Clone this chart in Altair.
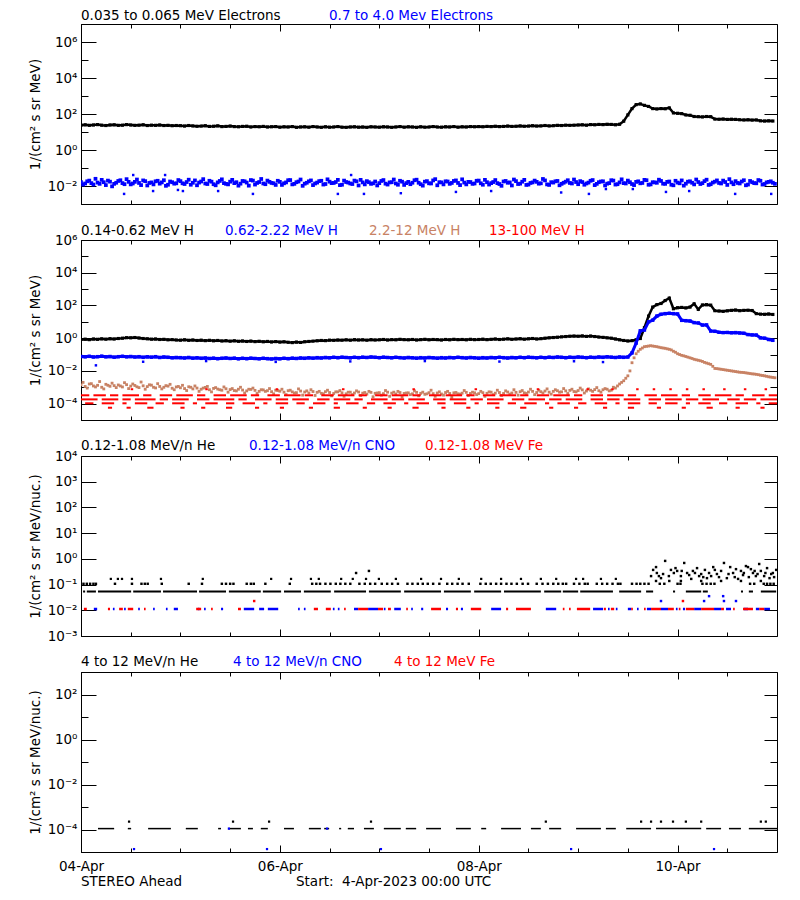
import altair as alt
import pandas as pd

FONT = "DejaVu Sans"
FS = 13.5
BLACK, BLUE, BROWN, RED = "#000000", "#0000ff", "#c88264", "#ff0000"

# ---------------- time base: hours after 2023-04-04 00:00 UTC ----------------
hours = list(range(168))
half_hours = [h + 0.5 for h in hours]
day_tick_hours = [0, 48, 96, 144]
day_tick_labels = ["04-Apr", "06-Apr", "08-Apr", "10-Apr"]
minor_tick_hours = [0, 12, 24, 36, 48, 60, 72, 84, 96, 108, 120, 132, 144, 156]

# ---------------- panel 1: electrons (log10 flux) ----------------
p1_names = ["0.035 to 0.065 MeV Electrons", "0.7 to 4.0 Mev Electrons"]
e_low_log = [
    1.38, 1.40, 1.37, 1.39, 1.41, 1.38, 1.36, 1.39, 1.40, 1.37, 1.38, 1.41,
    1.39, 1.37, 1.38, 1.40, 1.36, 1.38, 1.37, 1.39, 1.36, 1.37, 1.35, 1.36,
    1.35, 1.33, 1.36, 1.34, 1.32, 1.33, 1.35, 1.31, 1.32, 1.34, 1.30, 1.31,
    1.33, 1.30, 1.29, 1.31, 1.32, 1.28, 1.30, 1.29, 1.31, 1.28, 1.29, 1.30,
    1.27, 1.29, 1.28, 1.30, 1.26, 1.28, 1.29, 1.27, 1.30, 1.28, 1.26, 1.29,
    1.27, 1.28, 1.30, 1.27, 1.26, 1.28, 1.29, 1.27, 1.28, 1.26, 1.29, 1.28,
    1.27, 1.29, 1.28, 1.26, 1.28, 1.30, 1.27, 1.29, 1.28, 1.26, 1.29, 1.27,
    1.28, 1.30, 1.28, 1.27, 1.29, 1.28, 1.30, 1.27, 1.29, 1.28, 1.30, 1.29,
    1.30, 1.29, 1.31, 1.30, 1.32, 1.30, 1.31, 1.33, 1.31, 1.32, 1.34, 1.32,
    1.33, 1.35, 1.33, 1.34, 1.36, 1.34, 1.35, 1.37, 1.36, 1.38, 1.37, 1.38,
    1.39, 1.40, 1.38, 1.41, 1.40, 1.42, 1.41, 1.43, 1.42, 1.40, 1.43, 1.60,
    1.95, 2.30, 2.52, 2.56, 2.48, 2.42, 2.30, 2.28, 2.30, 2.29, 2.34, 2.06,
    2.04, 2.02, 1.95, 1.93, 1.86, 1.85, 1.84, 1.86, 1.85, 1.72, 1.71, 1.72,
    1.70, 1.71, 1.70, 1.68, 1.67, 1.68, 1.66, 1.67, 1.62, 1.61, 1.62, 1.61,
]
e_high_log_a = [
    -1.78, -1.86, -1.70, -1.92, -1.81, -1.66, -1.95, -1.76, -1.88, -1.72, -1.84, -1.62,
    -1.91, -1.77, -1.83, -1.69, -1.97, -1.80, -1.74, -1.87, -1.68, -1.93, -1.79, -1.85,
    -1.73, -1.89, -1.65, -1.82, -1.96, -1.75, -1.86, -1.71, -1.90, -1.80, -1.63, -1.88,
    -1.76, -1.84, -1.98, -1.72, -1.81, -1.67, -1.92, -1.78, -1.86, -1.70, -1.83, -1.94,
    -1.77, -1.85, -1.68, -1.91, -1.79, -1.64, -1.87, -1.74, -1.95, -1.81, -1.71, -1.89,
    -1.76, -1.83, -1.66, -1.93, -1.78, -1.86, -1.70, -1.97, -1.80, -1.73, -1.88, -1.75,
    -1.84, -1.67, -1.92, -1.79, -1.86, -1.71, -1.94, -1.77, -1.82, -1.65, -1.90, -1.76,
    -1.85, -1.69, -1.96, -1.80, -1.74, -1.88, -1.72, -1.83, -1.63, -1.91, -1.78, -1.86,
    -1.70, -1.93, -1.79, -1.84, -1.67, -1.89, -1.75, -1.82, -1.97, -1.73, -1.87, -1.66,
    -1.92, -1.80, -1.77, -1.85, -1.69, -1.94, -1.81, -1.72, -1.88, -1.76, -1.83, -1.64,
    -1.90, -1.78, -1.86, -1.71, -1.95, -1.79, -1.74, -1.87, -1.68, -1.92, -1.80, -1.84,
    -1.70, -1.89, -1.77, -1.85, -1.66, -1.93, -1.79, -1.82, -1.72, -1.88, -1.75, -1.96,
    -1.81, -1.69, -1.87, -1.74, -1.91, -1.78, -1.84, -1.65, -1.90, -1.76, -1.83, -1.70,
    -1.94, -1.80, -1.73, -1.86, -1.68, -1.92, -1.79, -1.85, -1.71, -1.89, -1.77, -1.82,
]
e_high_log_b = [
    -1.92, -1.74, -1.84, -1.60, -1.88, -1.79, -1.70, -2.02, -1.82, -1.68, -1.90, -1.77,
    -1.86, -1.64, -1.95, -1.73, -1.83, -1.91, -1.71, -1.80, -1.99, -1.75, -1.87, -1.67,
    -1.85, -1.78, -1.93, -1.69, -1.81, -1.62, -1.89, -1.76, -1.96, -1.72, -1.84, -1.91,
    -1.66, -1.79, -1.87, -1.74, -1.98, -1.70, -1.83, -1.61, -1.90, -1.77, -1.85, -1.71,
    -1.94, -1.80, -1.67, -1.88, -1.75, -1.99, -1.82, -1.69, -1.86, -1.73, -1.92, -1.63,
    -1.84, -1.78, -1.95, -1.70, -1.81, -1.89, -1.74, -1.66, -1.91, -1.79, -1.85, -1.97,
    -1.72, -1.87, -1.80, -1.64, -1.93, -1.76, -1.84, -1.90, -1.68, -1.82, -1.98, -1.73,
    -1.86, -1.62, -1.79, -1.91, -1.75, -1.83, -1.69, -1.95, -1.81, -1.77, -1.88, -1.71,
    -1.85, -1.66, -1.92, -1.78, -1.84, -1.99, -1.72, -1.80, -1.64, -1.89, -1.76, -1.94,
    -1.83, -1.70, -1.87, -1.61, -1.91, -1.79, -1.74, -1.96, -1.82, -1.68, -1.86, -1.78,
    -1.73, -1.93, -1.81, -1.67, -1.88, -1.75, -1.97, -1.84, -1.70, -1.90, -1.63, -1.86,
    -1.79, -1.95, -1.74, -1.83, -1.68, -1.91, -1.80, -1.65, -1.87, -1.77, -1.93, -1.71,
    -1.85, -1.98, -1.76, -1.82, -1.64, -1.89, -1.73, -1.94, -1.81, -1.69, -1.86, -1.78,
    -1.62, -1.90, -1.83, -1.75, -1.96, -1.72, -1.84, -1.67, -1.92, -1.80, -1.74, -1.88,
]
e_high_outliers = [
    (10.4, -2.44), (17.4, -2.28), (23.4, -2.22), (24.6, -2.28), (33.1, -2.28), (41.5, -2.44),
    (62.0, -2.44), (68.3, -2.44), (77.2, -2.40), (90.5, -2.33), (99.0, -2.28), (115.9, -2.36),
    (122.6, -2.44), (126.7, -2.17), (133.2, -2.17), (141.2, -2.33), (146.8, -2.28),
    (157.9, -2.44), (166.6, -2.44), (12.6, -1.39), (20.3, -1.39), (65.2, -1.39),
]

# ---------------- panel 2: protons (log10 flux) ----------------
p2_names = ["0.14-0.62 MeV H", "0.62-2.22 MeV H", "2.2-12 MeV H", "13-100 MeV H"]
h_low_log = [
    -0.08, -0.06, -0.09, -0.05, -0.07, -0.04, -0.06, -0.03, -0.05, -0.02, 0.00, 0.03,
    0.02, 0.04, 0.01, -0.02, -0.04, -0.06, -0.05, -0.08, -0.07, -0.10, -0.09, -0.11,
    -0.12, -0.10, -0.13, -0.11, -0.14, -0.12, -0.15, -0.13, -0.16, -0.14, -0.17, -0.15,
    -0.18, -0.16, -0.19, -0.17, -0.20, -0.18, -0.21, -0.19, -0.22, -0.20, -0.23, -0.21,
    -0.24, -0.22, -0.25, -0.27, -0.24, -0.26, -0.22, -0.20, -0.18, -0.16, -0.14, -0.15,
    -0.12, -0.13, -0.11, -0.12, -0.10, -0.12, -0.09, -0.11, -0.10, -0.12, -0.09, -0.11,
    -0.10, -0.08, -0.11, -0.09, -0.10, -0.07, -0.09, -0.10, -0.08, -0.11, -0.09, -0.07,
    -0.10, -0.08, -0.09, -0.11, -0.08, -0.10, -0.07, -0.09, -0.08, -0.10, -0.07, -0.09,
    -0.08, -0.06, -0.09, -0.07, -0.05, -0.08, -0.06, -0.04, -0.07, -0.05, -0.03, -0.06,
    -0.04, -0.02, -0.05, -0.03, 0.00, 0.02, 0.04, 0.06, 0.08, 0.10, 0.12, 0.13,
    0.12, 0.14, 0.11, 0.13, 0.10, 0.07, 0.05, 0.02, 0.00, -0.05, -0.10, -0.14,
    -0.17, -0.15, -0.10, -0.02, 0.64, 1.35, 1.90, 2.05, 2.12, 2.30, 2.45, 1.80,
    1.86, 1.88, 1.85, 1.90, 2.10, 1.76, 2.03, 2.05, 2.02, 1.68, 1.66, 1.64,
    1.67, 1.70, 1.72, 1.68, 1.70, 1.71, 1.69, 1.50, 1.47, 1.46, 1.48, 1.45,
]
h_mid_log = [
    -1.12, -1.14, -1.11, -1.15, -1.13, -1.10, -1.14, -1.12, -1.16, -1.13, -1.11, -1.14,
    -1.12, -1.15, -1.13, -1.17, -1.14, -1.16, -1.13, -1.18, -1.15, -1.17, -1.20, -1.18,
    -1.19, -1.21, -1.18, -1.22, -1.20, -1.23, -1.21, -1.24, -1.22, -1.25, -1.23, -1.21,
    -1.24, -1.22, -1.26, -1.23, -1.25, -1.22, -1.24, -1.26, -1.23, -1.25, -1.27, -1.24,
    -1.26, -1.23, -1.25, -1.22, -1.24, -1.21, -1.23, -1.20, -1.22, -1.19, -1.21, -1.18,
    -1.20, -1.17, -1.19, -1.16, -1.18, -1.20, -1.17, -1.19, -1.16, -1.18, -1.15, -1.17,
    -1.19, -1.16, -1.18, -1.20, -1.17, -1.19, -1.21, -1.18, -1.20, -1.22, -1.19, -1.21,
    -1.18, -1.20, -1.22, -1.19, -1.21, -1.18, -1.20, -1.17, -1.19, -1.21, -1.18, -1.20,
    -1.22, -1.19, -1.21, -1.18, -1.20, -1.17, -1.19, -1.21, -1.18, -1.20, -1.17, -1.19,
    -1.16, -1.18, -1.20, -1.17, -1.19, -1.16, -1.18, -1.15, -1.17, -1.19, -1.16, -1.18,
    -1.15, -1.17, -1.19, -1.16, -1.18, -1.15, -1.17, -1.14, -1.16, -1.18, -1.15, -1.17,
    -1.15, -0.90, -0.30, 0.45, 0.50, 1.00, 1.10, 1.35, 1.46, 1.50, 1.52, 1.50,
    1.48, 1.09, 1.07, 1.05, 0.95, 0.93, 0.80, 0.81, 0.44, 0.42, 0.36, 0.34,
    0.35, 0.33, 0.34, 0.32, 0.30, 0.22, 0.20, 0.19, 0.02, 0.00, -0.08, -0.13,
]
h_mid_outliers = [
    (3.6, -1.66), (15.0, -1.44), (30.2, -1.40), (47.0, -1.45), (65.0, -1.42),
    (83.0, -1.40), (101.0, -1.43), (119.0, -1.41), (126.0, -1.46),
]
h_high_log_a = [
    -2.85, -2.95, -2.80, -2.92, -2.88, -3.00, -2.82, -2.94, -2.90, -2.86, -2.98, -2.84,
    -2.93, -2.89, -3.02, -2.91, -2.96, -2.87, -3.04, -2.95, -3.00, -2.93, -3.06, -2.98,
    -3.03, -3.08, -2.97, -3.10, -3.05, -3.12, -3.01, -3.15, -3.07, -3.11, -3.18, -3.09,
    -3.14, -3.20, -3.12, -3.17, -3.22, -3.13, -3.19, -3.25, -3.16, -3.21, -3.27, -3.18,
    -3.24, -3.30, -3.21, -3.28, -3.33, -3.23, -3.29, -3.35, -3.26, -3.31, -3.37, -3.27,
    -3.32, -3.38, -3.28, -3.34, -3.40, -3.30, -3.35, -3.29, -3.36, -3.42, -3.31, -3.37,
    -3.33, -3.39, -3.30, -3.36, -3.41, -3.32, -3.38, -3.34, -3.40, -3.31, -3.37, -3.43,
    -3.33, -3.39, -3.35, -3.41, -3.32, -3.38, -3.34, -3.40, -3.36, -3.31, -3.38, -3.34,
    -3.39, -3.33, -3.37, -3.30, -3.36, -3.32, -3.38, -3.29, -3.35, -3.31, -3.27, -3.34,
    -3.29, -3.25, -3.32, -3.27, -3.23, -3.30, -3.25, -3.21, -3.28, -3.22, -3.19, -3.26,
    -3.20, -3.16, -3.23, -3.18, -3.14, -3.21, -3.15, -3.12, -3.18, -3.05, -2.80, -2.60,
    -2.30, -1.50, -0.95, -0.68, -0.52, -0.48, -0.48, -0.52, -0.58, -0.62, -0.68, -0.80,
    -0.95, -1.05, -1.12, -1.20, -1.29, -1.35, -1.42, -1.52, -1.60, -1.85, -1.88, -1.92,
    -1.96, -2.00, -2.04, -2.08, -2.10, -2.14, -2.18, -2.21, -2.26, -2.30, -2.36, -2.40,
]
h_high_log_b = [
    -2.70, -3.05, -2.78, -2.98, -2.65, -3.10, -2.88, -2.75, -3.02, -2.92, -2.72, -3.08,
    -2.80, -2.97, -2.68, -3.12, -2.85, -3.00, -2.78, -3.10, -2.90, -2.82, -3.15, -2.95,
    -2.88, -3.20, -3.00, -2.92, -3.25, -3.05, -2.95, -3.28, -3.02, -3.15, -2.98, -3.30,
    -3.08, -3.22, -3.00, -3.35, -3.12, -3.05, -3.38, -3.15, -3.25, -3.08, -3.40, -3.20,
    -3.12, -3.45, -3.18, -3.35, -3.10, -3.48, -3.22, -3.15, -3.50, -3.25, -3.40, -3.18,
    -3.52, -3.28, -3.20, -3.55, -3.30, -3.45, -3.22, -3.50, -3.32, -3.25, -3.58, -3.35,
    -3.48, -3.20, -3.55, -3.30, -3.25, -3.60, -3.35, -3.45, -3.22, -3.52, -3.30, -3.40,
    -3.18, -3.55, -3.28, -3.48, -3.25, -3.62, -3.32, -3.42, -3.20, -3.50, -3.30, -3.45,
    -3.25, -3.55, -3.28, -3.45, -3.18, -3.50, -3.22, -3.42, -3.15, -3.48, -3.20, -3.38,
    -3.12, -3.45, -3.18, -3.35, -3.10, -3.42, -3.15, -3.30, -3.08, -3.38, -3.12, -3.28,
    -3.05, -3.35, -3.10, -3.25, -3.02, -3.30, -3.08, -3.22, -3.00, -2.92, -2.70, -2.45,
    -2.00, -1.20, -0.80, -0.60, -0.50, -0.46, -0.50, -0.55, -0.60, -0.65, -0.72, -0.86,
    -1.00, -1.08, -1.16, -1.24, -1.32, -1.38, -1.48, -1.56, -1.72, -1.86, -1.90, -1.94,
    -1.98, -2.02, -2.06, -2.09, -2.12, -2.16, -2.19, -2.23, -2.28, -2.33, -2.38, -2.42,
]
# 13-100 MeV H: quantised count levels (log10) and the time spans (hours) where each is seen
h_top_levels = [-3.12, -3.49, -3.74, -3.98, -4.25]
h_top_row1 = [(12, 12.6), (30, 30.6), (47, 47.6), (63, 63.6), (80, 80.6), (95, 95.6), (110, 110.6),
              (122, 122.6), (128, 128.6), (134, 134.6), (138, 138.6), (142, 142.6), (146, 146.6),
              (150, 150.6), (155, 155.6), (160, 160.6), (165, 165.6)]
h_top_row2 = [(0, 2), (3, 6), (7, 9), (10, 14), (15, 17), (19, 22), (23, 27), (28, 30), (32, 35),
              (36, 40), (41, 43), (45, 48), (49, 53), (54, 56), (58, 61), (62, 66), (67, 69),
              (71, 74), (75, 79), (80, 82), (84, 87), (88, 92), (93, 95), (97, 100), (101, 105),
              (106, 108), (110, 113), (114, 118), (119, 121), (123, 126), (127, 131), (132, 134),
              (136, 139), (140, 144), (145, 147), (149, 152), (153, 157), (158, 160), (162, 165),
              (166, 168)]
h_top_row3 = [(0, 4), (5, 9), (10, 12), (13, 18), (19, 21), (22, 26), (28, 31), (32, 37), (38, 40),
              (42, 46), (47, 50), (51, 55), (57, 60), (61, 65), (66, 68), (70, 74), (75, 78),
              (79, 83), (85, 88), (89, 93), (94, 97), (98, 102), (104, 107), (108, 112), (113, 116),
              (117, 121), (123, 126), (127, 130), (131, 135), (137, 140), (141, 145), (146, 149),
              (150, 154), (156, 159), (160, 163), (164, 168)]
h_top_row4 = [(1, 3), (5, 8), (10, 11), (13, 16), (18, 20), (22, 25), (27, 28), (30, 33), (35, 37),
              (39, 42), (44, 45), (47, 50), (52, 54), (56, 59), (61, 62), (64, 67), (69, 71),
              (73, 76), (78, 79), (81, 84), (86, 88), (90, 93), (95, 96), (98, 101), (103, 105),
              (107, 110), (112, 113), (115, 118), (120, 122), (124, 127), (129, 130), (132, 135),
              (137, 139), (141, 144), (146, 147), (149, 152), (154, 156), (158, 161), (163, 164),
              (166, 168)]
h_top_row5 = [(6.5, 7.5), (11, 12), (16, 17.5), (24, 25), (29, 30), (35, 36.5), (42, 43), (48, 49),
              (55, 56), (61, 62.5), (68, 69), (74, 75), (80, 81.5), (87, 88), (93, 94), (100, 101),
              (106, 107.5), (113, 114), (119, 120), (126, 127), (132, 133.5), (139, 140),
              (145, 146), (151, 152.5), (158, 159), (164, 165)]

# ---------------- panel 3: 0.12-1.08 MeV/n ions (log10 flux) ----------------
p3_names = ["0.12-1.08 MeV/n He", "0.12-1.08 MeV/n CNO", "0.12-1.08 MeV Fe"]
he_lo_levels = [-1.27, -0.97, -0.78]
he_lo_row_main = [(0.5, 1.0), (1.4, 3.6), (4.1, 12.1), (12.6, 19.3), (19.8, 28.0), (28.5, 35.0),
                  (35.7, 43.4), (43.9, 48.3), (49.0, 53.1), (53.8, 60.3), (61.1, 68.8), (69.5, 77.2),
                  (78.0, 86.9), (87.6, 94.1), (94.9, 101.4), (102.1, 111.0), (111.8, 115.9),
                  (116.3, 120.0), (120.5, 128.4), (129.9, 135.2), (136.4, 138.1), (142.9, 143.4),
                  (146.0, 149.7), (150.1, 151.3), (159.3, 159.8), (161.2, 162.2), (164.1, 167.8)]
he_lo_row_upper = [0.6, 1.4, 2.2, 3.0, 3.6, 8.2, 12.3, 14.6, 15.4, 16.1, 19.5, 26.0, 29.2, 34.0,
                   35.0, 36.0, 36.8, 40.0, 41.0, 41.7, 44.5, 50.4, 55.8, 56.8, 57.7, 59.0, 60.2,
                   61.5, 62.6, 63.8, 65.0, 67.2, 68.5, 69.8, 71.0, 72.6, 73.9, 75.1, 76.5, 78.8,
                   80.0, 81.3, 82.5, 83.7, 85.0, 86.5, 88.4, 89.6, 90.9, 92.1, 93.6, 96.4, 97.7,
                   98.9, 100.2, 101.4, 102.7, 103.9, 105.2, 106.6, 107.9, 110.0, 111.4, 112.7,
                   114.0, 115.2, 116.3, 117.1, 119.0, 120.3, 121.6, 122.3, 124.5, 125.8, 127.0,
                   128.3, 129.6, 130.2, 133.0, 134.1, 135.0, 136.0, 137.0, 139.7, 140.8, 144.0,
                   144.7, 150.0, 151.0, 152.0, 152.9, 161.5, 162.5, 164.8, 165.6, 166.4, 167.2]
he_lo_row_top = [7.2, 8.9, 9.9, 12.3, 19.3, 29.4, 45.9, 50.7, 55.5, 57.4, 62.8, 65.6, 68.8, 71.9,
                 76.0, 82.1, 86.9, 91.2, 96.6, 101.4, 106.2, 111.0, 114.7, 119.5, 121.2, 125.5, 129.1]
he_lo_scatter = [
    (66.4, -0.55), (69.5, -0.47),
    (137.6, -0.67), (138.1, -0.43), (138.8, -0.32), (139.5, -0.67), (140.5, -0.59), (141.0, -0.08),
    (141.9, -0.67), (142.4, -0.43), (143.1, -0.55), (143.9, -0.47), (144.8, -0.67), (145.6, -0.16),
    (146.3, -0.55), (147.3, -0.78), (147.7, -0.47), (148.7, -0.36), (149.2, -0.67), (149.7, -0.59),
    (150.6, -0.43), (151.1, -0.75), (152.1, -0.67), (152.6, -0.32), (153.5, -0.59), (154.5, -0.47),
    (155.2, -0.16), (155.9, -0.75), (156.7, -0.32), (157.4, -0.55), (158.1, -0.40), (158.6, -0.78),
    (159.3, -0.47), (159.8, -0.63), (160.5, -0.28), (161.2, -0.71), (161.7, -0.40), (162.2, -0.55),
    (162.9, -0.67), (163.7, -0.20), (164.1, -0.47), (164.9, -0.67), (165.6, -0.36), (166.6, -0.59),
    (167.3, -0.71), (167.8, -0.43), (138.8, -0.86), (144.8, -0.86), (149.7, -0.86), (154.5, -0.86),
    (159.3, -0.86), (164.1, -0.86), (139.0, -0.55), (140.0, -0.75), (142.0, -0.86), (143.5, -0.36),
    (145.0, -0.47), (146.8, -0.63), (148.2, -0.55), (150.2, -0.71), (151.6, -0.55), (153.0, -0.43),
    (154.0, -0.71), (156.3, -0.59), (157.8, -0.71), (160.0, -0.55), (161.0, -0.32), (162.6, -0.47),
    (163.3, -0.59), (165.2, -0.55), (166.2, -0.75), (167.0, -0.55),
]
heavy_lo_level = -1.95
cno_lo_row = [(3.1, 3.9), (7.7, 8.1), (10.4, 10.8), (13.8, 14.2), (17.4, 17.8), (20.5, 20.9),
              (22.4, 23.4), (28.2, 28.6), (29.7, 30.1), (33.8, 34.3), (39.3, 41.8), (43.0, 44.2),
              (45.1, 47.6), (52.4, 52.8), (53.8, 54.2), (60.8, 61.2), (62.0, 62.4), (65.9, 66.9),
              (69.3, 71.7), (73.1, 73.5), (75.6, 77.2), (79.7, 80.1), (82.1, 82.6), (88.1, 88.6),
              (91.7, 92.2), (99.0, 101.4), (112.2, 114.7), (123.6, 126.0), (127.2, 127.6),
              (129.1, 129.5), (132.0, 132.8), (134.2, 134.6), (136.6, 137.6), (140.0, 141.7),
              (143.6, 144.0), (145.3, 145.8), (148.0, 149.7), (152.8, 154.5), (155.7, 156.9),
              (160.0, 161.0), (162.9, 163.7), (164.9, 166.3)]
fe_lo_row = [(0.7, 1.4), (6.5, 7.0), (9.2, 10.1), (11.3, 12.6), (15.2, 15.6), (27.8, 29.0),
             (31.4, 31.8), (37.9, 38.6), (56.2, 57.2), (59.1, 60.3), (63.5, 63.9), (66.9, 69.3),
             (71.7, 72.9), (74.1, 74.8), (78.5, 78.9), (84.5, 86.9), (90.5, 91.0), (94.1, 96.6),
             (102.6, 103.1), (105.0, 108.6), (116.3, 116.7), (117.8, 118.2), (119.7, 122.9),
             (126.2, 126.7), (127.9, 128.7), (132.8, 133.2), (135.9, 136.3), (137.6, 140.0),
             (141.7, 143.1), (144.3, 144.7), (146.0, 148.0), (149.7, 152.8), (154.5, 155.2),
             (157.4, 157.8), (159.8, 162.2), (163.7, 164.9)]
cno_lo_points = [(140.0, -1.64), (150.4, -1.64), (155.2, -1.64), (158.1, -1.64), (151.6, -1.45), (155.0, -1.45)]
fe_lo_points = [(41.8, -1.64), (145.3, -1.64)]

# ---------------- panel 4: 4-12 MeV/n ions (log10 flux) ----------------
p4_names = ["4 to 12 MeV/n He", "4 to 12 MeV/n CNO", "4 to 12 MeV Fe"]
he_hi_level = -3.96
he_hi_row = [(4.1, 8.0), (11.3, 12.1), (16.2, 21.7), (25.3, 28.2), (33.1, 33.8), (35.5, 38.6),
             (40.3, 41.5), (43.4, 45.1), (49.0, 51.4), (55.0, 57.9), (58.7, 59.9), (62.3, 62.8),
             (64.4, 65.9), (68.3, 70.7), (73.1, 77.2), (78.4, 80.9), (83.3, 86.9), (90.5, 94.1),
             (96.6, 97.8), (101.4, 106.2), (108.6, 111.0), (113.0, 115.9), (119.5, 125.5),
             (126.7, 129.1), (131.6, 137.6), (138.8, 149.7), (150.9, 154.5), (156.4, 159.3),
             (161.2, 168.0)]
he_hi_points_h = [11.6, 36.7, 45.4, 70.0, 112.2, 135.2, 137.6, 140.0, 142.9, 146.0, 149.7, 164.1, 165.3]
he_hi_points_log = -3.65
cno_hi_row_h = [35.7, 59.4]
cno_hi_low_h = [12.8, 44.9, 72.4, 118.3, 152.8]
cno_hi_low_log = -4.87

footer_left = "STEREO Ahead"
footer_mid = "Start:\u00a0 4-Apr-2023 00:00 UTC"

# ---------------- helpers ----------------
W, H = 696, 180
XS = alt.Scale(domain=[0, 168], nice=False, zero=False)
SUP = str.maketrans("0123456789-", "⁰¹²³⁴⁵⁶⁷⁸⁹⁻")


def yscale(lo, hi):
    return alt.Scale(domain=[lo, hi], nice=False, zero=False)


def enc_xy(ys, xf="h:Q", yf="v:Q"):
    return dict(x=alt.X(xf, scale=XS, axis=None), y=alt.Y(yf, scale=ys, axis=None))


def squares(xs, vs, color, ys, size):
    df = pd.DataFrame({"h": list(xs), "v": list(vs)})
    return alt.Chart(df).mark_square(color=color, size=size, opacity=1, clip=True).encode(**enc_xy(ys))


def line(xs, vs, color, ys, sw):
    df = pd.DataFrame({"h": list(xs), "v": list(vs)})
    return alt.Chart(df).mark_line(color=color, strokeWidth=sw, clip=True).encode(**enc_xy(ys))


def segs(pairs, level, color, ys, sw=2):
    df = pd.DataFrame({"s": [p[0] for p in pairs], "e": [p[1] for p in pairs], "v": [level] * len(pairs)})
    return alt.Chart(df).mark_rule(color=color, strokeWidth=sw, clip=True, strokeCap="butt").encode(
        x=alt.X("s:Q", scale=XS, axis=None), x2="e:Q", y=alt.Y("v:Q", scale=ys, axis=None))


def label(txt, color, px, py):
    # baseline "top": py is (almost exactly) the top of the capital letters
    df = pd.DataFrame({"t": [txt]})
    return alt.Chart(df).mark_text(align="left", baseline="top", font=FONT, fontSize=FS,
                                   color=color).encode(text="t:N", x=alt.value(px), y=alt.value(py))


AX = dict(grid=False, domainColor=BLACK, domainWidth=1, tickColor=BLACK, tickWidth=1,
          labelColor=BLACK, labelFont=FONT, labelFontSize=FS, titleFont=FONT, titleFontSize=FS,
          titleFontWeight="normal", titleColor=BLACK)


def chain(vals, texts):
    return " : ".join(f"datum.value == {v} ? '{t}'" for v, t in zip(vals, texts)) + " : ''"


def axis_layers(ys, mid, major, minor, ytitle, xlabels):
    df = pd.DataFrame({"h": [84.0], "v": [mid]})
    ylab = chain(major, ["10" + str(e).translate(SUP) for e in major])
    xlab = chain(day_tick_hours, day_tick_labels)
    xb_major = dict(orient="bottom", values=day_tick_hours, tickSize={"expr": "-7"}, domain=True,
                    title=None, labelFlush=False, labelOverlap=False, **AX)
    if xlabels:
        xb_major.update(labels=True, labelExpr=xlab, labelPadding=14)
    else:
        xb_major.update(labels=False)
    xs_axes = [
        alt.Axis(**xb_major),
        alt.Axis(orient="bottom", values=minor_tick_hours, tickSize={"expr": "-4"}, domain=False,
                 labels=False, title=None, **AX),
        alt.Axis(orient="top", values=day_tick_hours, tickSize={"expr": "-7"}, domain=True,
                 labels=False, title=None, **AX),
        alt.Axis(orient="top", values=minor_tick_hours, tickSize={"expr": "-4"}, domain=False,
                 labels=False, title=None, **AX),
    ]
    ys_axes = [
        alt.Axis(orient="left", values=major, tickSize={"expr": "-15"}, domain=True, labels=True,
                 labelExpr=ylab, labelPadding=19, labelFlush=False, labelOverlap=False,
                 title=ytitle, titlePadding=5, **AX),
        alt.Axis(orient="left", values=minor, tickSize={"expr": "-7"}, domain=False, labels=False,
                 title=None, **AX) if minor else None,
        alt.Axis(orient="right", values=major, tickSize={"expr": "-13"}, domain=True, labels=False,
                 title=None, **AX),
        alt.Axis(orient="right", values=minor, tickSize={"expr": "-7"}, domain=False, labels=False,
                 title=None, **AX) if minor else None,
    ]
    out = []
    for xa, ya in zip(xs_axes, ys_axes):
        out.append(alt.Chart(df).mark_point(opacity=0).encode(
            x=alt.X("h:Q", scale=XS, axis=xa), y=alt.Y("v:Q", scale=ys, axis=ya)))
    return out


def panel(layers, axes, texts):
    return alt.layer(*layers, *axes, *texts).resolve_axis(x="independent", y="independent").properties(
        width=W, height=H)


TITLE_A = "1/(cm² s sr MeV)"
TITLE_B = "1/(cm² s sr MeV/nuc.)"

# ---------------- panel 1 ----------------
ys1 = yscale(-3, 7)
p1 = panel(
    [
        line(hours[:len(e_low_log)], e_low_log, BLACK, ys1, 2.5),
        squares(hours[:len(e_low_log)], e_low_log, BLACK, ys1, 10),
        squares(hours[:len(e_high_log_a)], e_high_log_a, BLUE, ys1, 14),
        squares(half_hours[:len(e_high_log_b)], e_high_log_b, BLUE, ys1, 14),
        squares([p[0] for p in e_high_outliers], [p[1] for p in e_high_outliers], BLUE, ys1, 6),
    ],
    axis_layers(ys1, 2, [-2, 0, 2, 4, 6], [-3, -1, 1, 3, 5, 7], TITLE_A, False),
    [label(p1_names[0], BLACK, 0, -15), label(p1_names[1], BLUE, 248, -15)],
)

# ---------------- panel 2 ----------------
ys2 = yscale(-5, 6)
red_rows = [h_top_row1, h_top_row2, h_top_row3, h_top_row4, h_top_row5]
p2 = panel(
    [
        line(hours[:len(h_low_log)], h_low_log, BLACK, ys2, 2.5),
        squares(hours[:len(h_low_log)], h_low_log, BLACK, ys2, 10),
        line(hours[:len(h_mid_log)], h_mid_log, BLUE, ys2, 3),
        squares(hours[:len(h_mid_log)], h_mid_log, BLUE, ys2, 12),
        squares([p[0] for p in h_mid_outliers], [p[1] for p in h_mid_outliers], BLUE, ys2, 6),
        squares(hours[:len(h_high_log_a)], h_high_log_a, BROWN, ys2, 8),
        squares(half_hours[:len(h_high_log_b)], h_high_log_b, BROWN, ys2, 8),
    ] + [segs(r, lv, RED, ys2, 2) for r, lv in zip(red_rows, h_top_levels)],
    axis_layers(ys2, 0, [-4, -2, 0, 2, 4, 6], [-5, -3, -1, 1, 3, 5], TITLE_A, False),
    [label(p2_names[0], BLACK, 0, -16), label(p2_names[1], BLUE, 144, -16),
     label(p2_names[2], BROWN, 288, -16), label(p2_names[3], RED, 408, -16)],
)

# ---------------- panel 3 ----------------
ys3 = yscale(-3, 4)
p3 = panel(
    [
        segs(he_lo_row_main, he_lo_levels[0], BLACK, ys3, 2),
        squares(he_lo_row_upper, [he_lo_levels[1]] * len(he_lo_row_upper), BLACK, ys3, 6),
        squares(he_lo_row_top, [he_lo_levels[2]] * len(he_lo_row_top), BLACK, ys3, 5),
        squares([p[0] for p in he_lo_scatter], [p[1] for p in he_lo_scatter], BLACK, ys3, 6),
        segs(cno_lo_row, heavy_lo_level, BLUE, ys3, 2.5),
        segs(fe_lo_row, heavy_lo_level, RED, ys3, 2.5),
        squares([p[0] for p in cno_lo_points], [p[1] for p in cno_lo_points], BLUE, ys3, 6),
        squares([p[0] for p in fe_lo_points], [p[1] for p in fe_lo_points], RED, ys3, 6),
    ],
    axis_layers(ys3, 0, [-3, -2, -1, 0, 1, 2, 3, 4], [], TITLE_B, False),
    [label(p3_names[0], BLACK, 0, -17), label(p3_names[1], BLUE, 168, -17),
     label(p3_names[2], RED, 344, -17)],
)

# ---------------- panel 4 ----------------
ys4 = yscale(-5, 3)
p4 = panel(
    [
        segs(he_hi_row, he_hi_level, BLACK, ys4, 1.5),
        squares(he_hi_points_h, [he_hi_points_log] * len(he_hi_points_h), BLACK, ys4, 5),
        squares(cno_hi_row_h, [he_hi_level] * len(cno_hi_row_h), BLUE, ys4, 5),
        squares(cno_hi_low_h, [cno_hi_low_log] * len(cno_hi_low_h), BLUE, ys4, 5),
    ],
    axis_layers(ys4, 0, [-4, -2, 0, 2], [-5, -3, -1, 1, 3], TITLE_B, True),
    [label(p4_names[0], BLACK, 0, -17), label(p4_names[1], BLUE, 152, -17),
     label(p4_names[2], RED, 313, -17),
     label(footer_left, BLACK, 0, H + 23), label(footer_mid, BLACK, 215, H + 23)],
)

chart = alt.vconcat(p1, p2, p3, p4, spacing=36, bounds="flush").properties(
    padding={"left": 19, "top": 0, "right": 10, "bottom": 5}
).configure_view(stroke="transparent")

chart.save("out.html", embed_options={"renderer": "svg", "actions": False})
